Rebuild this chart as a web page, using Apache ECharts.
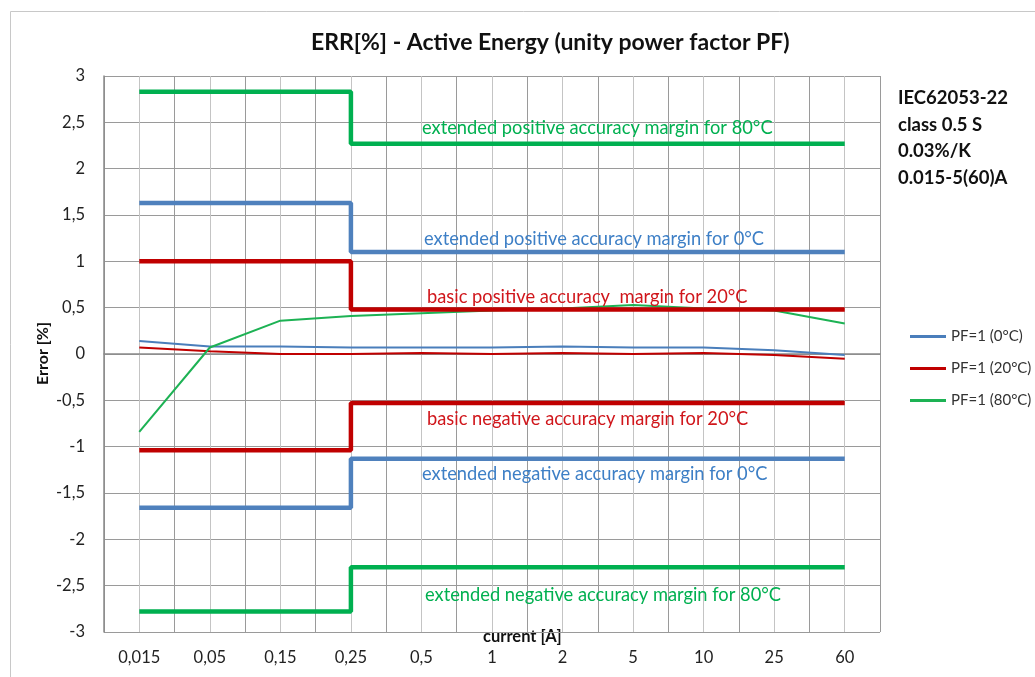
<!DOCTYPE html>
<html>
<head>
<meta charset="utf-8">
<script src="https://cdn.jsdelivr.net/npm/echarts@6/dist/echarts.min.js"></script>
<style>html,body{margin:0;background:#fff}#main{width:1035px;height:677px}</style>
</head>
<body>
<div id="main"></div>
<script>
var currents = ['0,015', '0,05', '0,15', '0,25', '0,5', '1', '2', '5', '10', '25', '60'];
var yTicks = [-3, -2.5, -2, -1.5, -1, -0.5, 0, 0.5, 1, 1.5, 2, 2.5, 3];

// measured error curves
var pf0 = [0.14, 0.08, 0.08, 0.07, 0.07, 0.07, 0.08, 0.07, 0.07, 0.04, -0.01];
var pf20 = [0.07, 0.03, 0.0, 0.0, 0.01, 0.0, 0.01, 0.0, 0.01, -0.01, -0.05];
var pf80 = [-0.84, 0.07, 0.36, 0.41, 0.44, 0.47, 0.49, 0.53, 0.49, 0.47, 0.33];

// accuracy margins (step at 0,25 A)
var ext80Pos = [2.83, 2.83, 2.83, 2.83, 2.27, 2.27, 2.27, 2.27, 2.27, 2.27, 2.27];
var ext0Pos = [1.63, 1.63, 1.63, 1.63, 1.1, 1.1, 1.1, 1.1, 1.1, 1.1, 1.1];
var basicPos = [1.0, 1.0, 1.0, 1.0, 0.48, 0.48, 0.48, 0.48, 0.48, 0.48, 0.48];
var basicNeg = [-1.04, -1.04, -1.04, -1.04, -0.53, -0.53, -0.53, -0.53, -0.53, -0.53, -0.53];
var ext0Neg = [-1.66, -1.66, -1.66, -1.66, -1.13, -1.13, -1.13, -1.13, -1.13, -1.13, -1.13];
var ext80Neg = [-2.78, -2.78, -2.78, -2.78, -2.3, -2.3, -2.3, -2.3, -2.3, -2.3, -2.3];

var infoLines = ['IEC62053-22', 'class 0.5 S', '0.03%/K', '0.015-5(60)A'];

var BLUE = '#4f81bd', RED = '#c00000', GREEN = '#00b050';
var FONT = 'Lato';

function thin(name, data, color) {
    return {
        name: name, type: 'line', data: data, xAxisIndex: 0,
        symbol: 'none', z: 3,
        lineStyle: { color: color, width: 2 }, itemStyle: { color: color }
    };
}
function margin(data, color) {
    return {
        type: 'line', data: data, xAxisIndex: 0, step: 'start',
        symbol: 'none', z: 4, silent: true,
        lineStyle: { color: color, width: 4.5 }
    };
}
function note(text, x, y, color) {
    return {
        type: 'text', left: x, top: y, z: 10,
        style: { text: text, fill: color, font: '18.3px ' + FONT }
    };
}

var myChart = echarts.init(document.getElementById('main'));
var option = {
    backgroundColor: '#fff',
    animation: false,
    title: {
        text: 'ERR[%] - Active Energy (unity power factor PF)',
        left: 306, top: 26,
        textStyle: { fontFamily: FONT, fontSize: 23, fontWeight: 'bold', color: '#111' }
    },
    legend: {
        data: ['PF=1 (0°C)', 'PF=1 (20°C)', 'PF=1 (80°C)'],
        orient: 'vertical', left: 905, top: 324,
        icon: 'rect', itemWidth: 36, itemHeight: 3, itemGap: 17,
        textStyle: { fontFamily: FONT, fontSize: 15, color: '#333' }
    },
    grid: { left: 104, right: 155, top: 76, bottom: 45 },
    xAxis: [{
        type: 'category', data: currents, boundaryGap: true,
        axisTick: { show: false },
        axisLine: { lineStyle: { color: '#8a8a8a', width: 1.5 } },
        axisLabel: { fontFamily: FONT, fontSize: 16.5, color: '#222', margin: 17 },
        splitLine: { show: false }
    }, {
        type: 'value', min: 0, max: 22, interval: 1, position: 'bottom',
        axisLine: { show: false }, axisTick: { show: false }, axisLabel: { show: false },
        splitLine: { show: true, lineStyle: { color: ['#9a9a9a', '#c4c4c4'], width: 1 } }
    }],
    yAxis: {
        type: 'value', min: yTicks[0], max: yTicks[yTicks.length - 1], interval: 0.5,
        axisLine: { show: true, lineStyle: { color: '#8a8a8a', width: 1.5 } },
        axisTick: { show: false },
        axisLabel: {
            fontFamily: FONT, fontSize: 16.5, color: '#222', margin: 19,
            formatter: function (v) { return String(v).replace('.', ','); }
        },
        splitLine: { lineStyle: { color: '#9a9a9a', width: 1 } }
    },
    graphic: [
        { type: 'rect', left: 8, top: 9, shape: { width: 1040, height: 680 },
          style: { fill: 'none', stroke: '#c8c8c8', lineWidth: 1 }, silent: true },
        { type: 'text', left: 898, top: 85,
          style: { text: infoLines.join('\n'), font: 'bold 18.5px ' + FONT, fill: '#111', lineHeight: 26.5 } },
        { type: 'text', left: 483, top: 628,
          style: { text: 'current [A]', font: 'bold 16.5px ' + FONT, fill: '#111' } },
        { type: 'text', left: 35, top: 322, rotation: Math.PI / 2,
          style: { text: 'Error [%]', font: 'bold 16px ' + FONT, fill: '#111' } },
        note('extended positive accuracy margin for 80°C', 422, 119, GREEN),
        note('extended positive accuracy margin for 0°C', 424, 230, '#3d7fc6'),
        note('basic positive accuracy  margin for 20°C', 427, 288, '#d0161b'),
        note('basic negative accuracy margin for 20°C', 427, 410, '#d0161b'),
        note('extended negative accuracy margin for 0°C', 422, 465, '#3d7fc6'),
        note('extended negative accuracy margin for 80°C', 425, 586, GREEN)
    ],
    series: [
        thin('PF=1 (0°C)', pf0, '#4a7ebb'),
        thin('PF=1 (20°C)', pf20, RED),
        thin('PF=1 (80°C)', pf80, '#1db254'),
        margin(ext80Pos, GREEN),
        margin(ext0Pos, BLUE),
        margin(basicPos, RED),
        margin(basicNeg, RED),
        margin(ext0Neg, BLUE),
        margin(ext80Neg, GREEN)
    ]
};
myChart.setOption(option);
</script>
</body>
</html>
